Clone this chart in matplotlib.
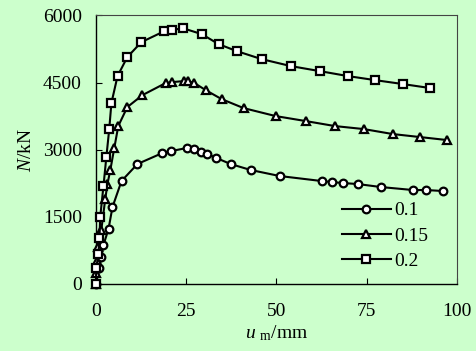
import matplotlib
matplotlib.use("Agg")
import matplotlib.pyplot as plt

# Axial load N (kN) vs. mid-span deflection u_m (mm) for three axial load ratios
u_01 = [0, 1.0, 1.5, 2.1, 3.5, 4.6, 7.1, 11.5, 18.4, 20.9, 25.1, 27.3, 29.0, 30.9,
        33.4, 37.3, 42.9, 50.9, 62.5, 65.3, 68.4, 72.5, 78.9, 87.8, 91.4, 96.1]
n_01 = [0, 357, 600, 871, 1228, 1719, 2300, 2680, 2925, 2970, 3037, 3015, 2948, 2903,
        2814, 2680, 2546, 2412, 2300, 2278, 2255, 2233, 2166, 2099, 2099, 2077]

u_015 = [0, 0.1, 0.4, 0.7, 1.5, 2.6, 3.2, 4.0, 5.1, 6.2, 8.7, 12.9, 19.3, 21.2, 24.3,
         25.4, 27.3, 30.4, 34.8, 40.9, 49.8, 58.1, 66.2, 74.2, 82.2, 89.7, 97.2]
n_015 = [0, 246, 514, 826, 1206, 1898, 2233, 2546, 3037, 3528, 3952, 4220, 4488, 4511,
         4533, 4533, 4488, 4332, 4131, 3930, 3751, 3640, 3528, 3461, 3350, 3283, 3216]

u_02 = [0, 0.1, 0.7, 1.0, 1.2, 2.1, 2.9, 3.7, 4.3, 6.0, 8.7, 12.6, 19.0, 21.2, 24.0,
        29.3, 34.0, 39.0, 45.9, 54.0, 62.0, 69.8, 77.3, 85.1, 92.6]
n_02 = [0, 357, 670, 1027, 1496, 2188, 2836, 3461, 4042, 4645, 5069, 5404, 5650, 5672,
        5717, 5583, 5359, 5203, 5024, 4868, 4756, 4645, 4555, 4466, 4377]

labels = ["0.1", "0.15", "0.2"]
markers = ["o", "^", "s"]
x_ticks = [0, 25, 50, 75, 100]
y_ticks = [0, 1500, 3000, 4500, 6000]

bg = "#CCFFCC"
plt.rcParams["font.family"] = ["Liberation Serif", "DejaVu Serif"]
plt.rcParams["mathtext.fontset"] = "custom"
plt.rcParams["mathtext.rm"] = "Liberation Serif"
plt.rcParams["mathtext.it"] = "Liberation Serif:italic"

fig = plt.figure(figsize=(4.77, 3.51), dpi=100, facecolor=bg)
ax = fig.add_axes([0.201, 0.191, 0.757, 0.765], facecolor=bg)

for u, n, lab, mk in zip([u_01, u_015, u_02], [n_01, n_015, n_02], labels, markers):
    ax.plot(u, n, color="black", lw=1.5, marker=mk, ms=5.5 if mk != "^" else 6,
            mfc="white", mec="black", mew=1.6, label=lab, clip_on=False, zorder=3)

ax.set_xlim(0, 100)
ax.set_ylim(0, 6000)
ax.set_xticks(x_ticks)
ax.set_yticks(y_ticks)
ax.tick_params(direction="in", length=4, width=0.8, labelsize=14, colors="black",
               top=False, right=False)
ax.tick_params(axis="x", pad=14)
ax.tick_params(axis="y", pad=10)
for side in ["left", "bottom"]:
    ax.spines[side].set_color("black")
    ax.spines[side].set_linewidth(1.0)
for side in ["top", "right"]:
    ax.spines[side].set_color("#444444")
    ax.spines[side].set_linewidth(0.8)

ax.set_xlabel(r"$u$ $_{\rm m}$/mm", fontsize=14, labelpad=2)
ax.set_ylabel(r"$N$/kN", fontsize=14, labelpad=6)

leg = ax.legend(loc="upper left", bbox_to_anchor=(0.66, 0.335), frameon=False,
                fontsize=14, handlelength=2.5, handletextpad=0.2,
                labelspacing=0.4, borderaxespad=0)

fig.savefig("out.png", dpi=100, facecolor=bg)
